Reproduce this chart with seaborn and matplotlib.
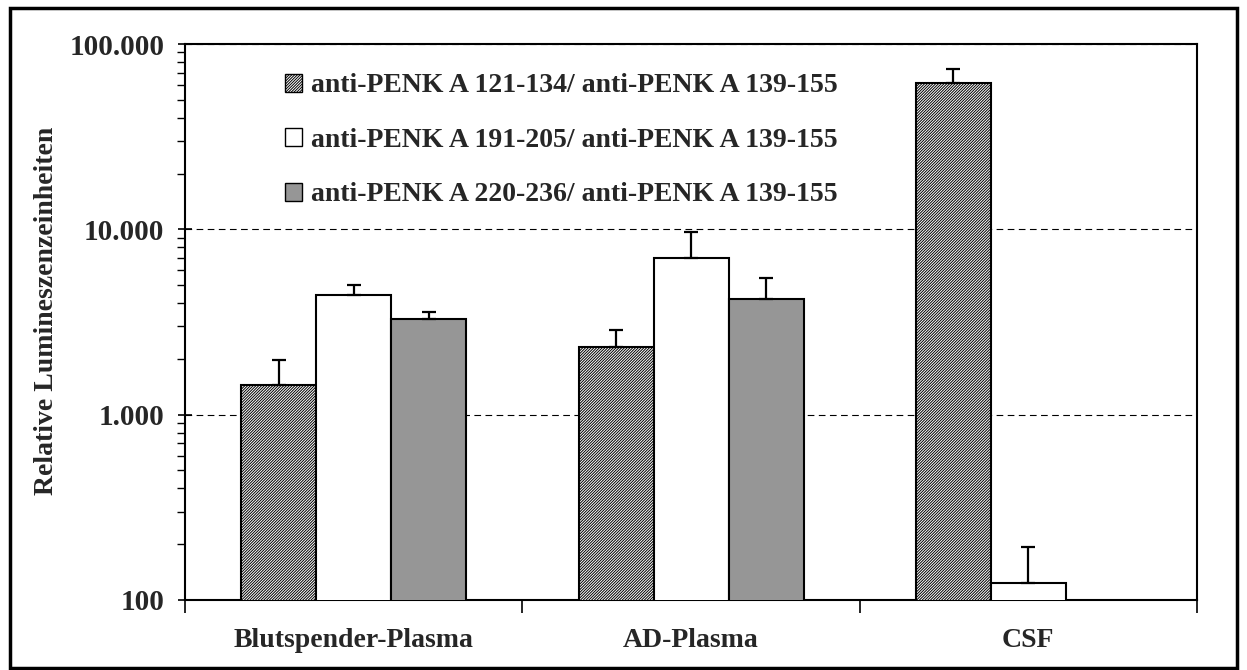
import numpy as np
import pandas as pd
import matplotlib
matplotlib.use("Agg")
import matplotlib.pyplot as plt
import matplotlib.ticker as mticker
from matplotlib.patches import Rectangle
import seaborn as sns

categories = ["Blutspender-Plasma", "AD-Plasma", "CSF"]
series = ["anti-PENK A 121-134/ anti-PENK A 139-155",
          "anti-PENK A 191-205/ anti-PENK A 139-155",
          "anti-PENK A 220-236/ anti-PENK A 139-155"]
values_121 = [1445, 2319, 61660]
values_191 = [4426, 7010, 123.5]
values_220 = [3285, 4212, np.nan]
err_121 = [528, 546, 11740]
err_191 = [586, 2670, 70]
err_220 = [300, 1253, np.nan]
ytick_values = [100, 1000, 10000, 100000]

sns.set_theme(style="white")
plt.rcParams["font.family"] = ["Liberation Serif", "DejaVu Serif"]
plt.rcParams["font.weight"] = "bold"
plt.rcParams["hatch.linewidth"] = 0.7

rows = []
for s, vals, errs in [(series[0], values_121, err_121),
                      (series[1], values_191, err_191),
                      (series[2], values_220, err_220)]:
    for c, v, e in zip(categories, vals, errs):
        if not np.isnan(v):
            rows.append({"cat": c, "series": s, "value": v, "err": e})
df = pd.DataFrame(rows)

fig = plt.figure(figsize=(12.47, 6.70), dpi=100)
ax = fig.add_axes([0.1484, 0.1045, 0.8115, 0.8298])
ax.set_yscale("log")
ax.set_ylim(100, 100000)

colors = ["white", "white", "#969696"]
sns.barplot(data=df, x="cat", y="value", hue="series", order=categories,
            hue_order=series, palette=colors, width=0.667, gap=0,
            edgecolor="black", linewidth=1.5, errorbar=None, ax=ax,
            saturation=1, legend=True, zorder=3)

hatches = ["/" * 12, "", ""]
bar_containers = list(ax.containers)
for i, cont in enumerate(bar_containers):
    s = series[i]
    sub = df[df["series"] == s].set_index("cat")
    xs, ys, es = [], [], []
    for bar in cont:
        bar.set_hatch(hatches[i])
        bar.set_zorder(3)
        xc = bar.get_x() + bar.get_width() / 2
        ci = int(round(xc))
        c = categories[ci]
        xs.append(xc)
        ys.append(sub.loc[c, "value"])
        es.append(sub.loc[c, "err"])
    ax.errorbar(xs, ys, yerr=[np.zeros(len(es)), es], fmt="none",
                ecolor="black", elinewidth=1.6, capsize=5, capthick=1.6,
                zorder=4)

ax.set_xlim(-0.5, len(categories) - 0.5)
ax.set_ylim(100, 100000)
ax.yaxis.set_major_locator(mticker.FixedLocator(ytick_values))
ax.yaxis.set_major_formatter(mticker.FuncFormatter(
    lambda v, p: f"{int(round(v)):,}".replace(",", ".")))
ax.yaxis.set_minor_locator(mticker.LogLocator(base=10, subs=np.arange(2, 10)))
ax.yaxis.set_minor_formatter(mticker.NullFormatter())
ax.tick_params(axis="y", which="major", direction="inout", length=10,
               width=1.2, labelsize=21, pad=10, left=True, color="black")
ax.tick_params(axis="y", which="minor", direction="out", length=6,
               width=1.0, left=True, color="black")
ax.set_xticks(range(len(categories)))
ax.set_xticklabels(categories, fontsize=20, fontweight="bold")
ax.tick_params(axis="x", which="major", length=0, pad=20)
ax.set_xticks(np.arange(-0.5, len(categories), 1.0), minor=True)
ax.tick_params(axis="x", which="minor", direction="out", length=9,
               width=1.2, bottom=True, color="black")

for lbl in ax.get_yticklabels():
    lbl.set_fontweight("bold")

ax.grid(False)
for v in ytick_values[1:]:
    ax.axhline(v, color="black", linestyle=(0, (6, 4)), linewidth=0.8,
               zorder=1)

for sp in ax.spines.values():
    sp.set_color("black")
    sp.set_linewidth(1.5)
    sp.set_visible(True)

ax.set_xlabel("")
ax.set_ylabel("Relative Lumineszenzeinheiten", fontsize=20,
              fontweight="bold")
ax.yaxis.set_label_coords(-0.125, 0.52)

leg = ax.legend(loc="upper left", bbox_to_anchor=(0.088, 0.967), frameon=False,
                fontsize=20, handlelength=0.62, handleheight=0.62,
                handletextpad=0.3, labelspacing=1.06, borderaxespad=0)
for t in leg.get_texts():
    t.set_fontweight("bold")
for h, hatch in zip(leg.legend_handles, hatches):
    h.set_hatch(hatch)
    h.set_edgecolor("black")
    h.set_linewidth(1.0)

fig.patches.append(Rectangle((0.008, 0.003), 0.984, 0.985,
                             transform=fig.transFigure, fill=False,
                             edgecolor="black", linewidth=2.5))

fig.savefig("out.png", dpi=100, facecolor="white")
